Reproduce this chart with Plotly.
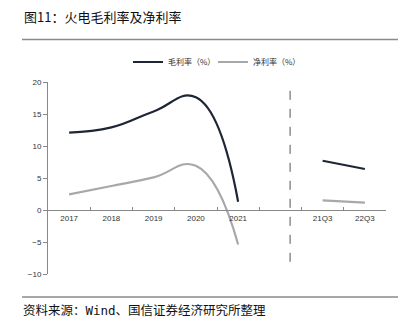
import plotly.graph_objects as go

categories = ['2017', '2018', '2019', '2020', '2021', ' ', '21Q3', '22Q3']
years = ['2017', '2018', '2019', '2020', '2021']
gross_annual = [12.1, 12.9, 15.4, 17.6, 1.3]
net_annual = [2.45, 3.75, 5.1, 6.9, -5.4]
quarters = ['21Q3', '22Q3']
gross_q = [7.7, 6.4]
net_q = [1.5, 1.15]
y_ticks = [-10, -5, 0, 5, 10, 15, 20]

DARK = '#1e2635'
GRAY = '#a8a8a8'
CJK = 'Noto Sans CJK SC'

W, H = 407, 323
L, R, T, B = 48, 21, 82, 49
PW, PH = W - L - R, H - T - B

def px(x):
    return (x - L) / PW

def py(y):
    return (H - B - y) / PH

fig = go.Figure()
fig.add_trace(go.Scatter(x=years, y=gross_annual, mode='lines', name='毛利率（%）',
                         line=dict(color=DARK, width=2.2, shape='spline', smoothing=1.3)))
fig.add_trace(go.Scatter(x=years, y=net_annual, mode='lines', name='净利率（%）',
                         line=dict(color=GRAY, width=2.2, shape='spline', smoothing=1.3)))
fig.add_trace(go.Scatter(x=quarters, y=gross_q, mode='lines', showlegend=False,
                         line=dict(color=DARK, width=2.2)))
fig.add_trace(go.Scatter(x=quarters, y=net_q, mode='lines', showlegend=False,
                         line=dict(color=GRAY, width=2.2)))

# separator dashed line
fig.add_shape(type='line', xref='x', yref='y', x0=5.23, x1=5.23, y0=-8.1, y1=19.4,
              line=dict(color='#555555', width=1, dash='dash'))

# title and rules
fig.add_annotation(xref='paper', yref='paper', x=px(22), y=py(17), xanchor='left', yanchor='middle',
                   text='图11：火电毛利率及净利率', showarrow=False,
                   font=dict(family=CJK, size=13, color='#111111'))
fig.add_shape(type='line', xref='paper', yref='paper', x0=px(22), x1=px(398), y0=py(39.5), y1=py(39.5),
              line=dict(color='#8a8a8a', width=1.5))
fig.add_shape(type='line', xref='paper', yref='paper', x0=px(22), x1=px(398), y0=py(297), y1=py(297),
              line=dict(color='#8a8a8a', width=1.5))
fig.add_annotation(xref='paper', yref='paper', x=px(21), y=py(310), xanchor='left', yanchor='middle',
                   text='资料来源：Wind、国信证券经济研究所整理', showarrow=False,
                   font=dict(family='DejaVu Sans Mono, ' + CJK, size=12.5, color='#111111'))

fig.update_layout(
    width=W, height=H,
    margin=dict(l=L, r=R, t=T, b=B, pad=0),
    paper_bgcolor='white', plot_bgcolor='white',
    showlegend=True,
    legend=dict(orientation='h', x=px(128), y=py(62), xanchor='left', yanchor='middle',
                font=dict(family=CJK, size=8, color='#333333'),
                itemwidth=30, tracegroupgap=0, bgcolor='rgba(0,0,0,0)',
                entrywidth=40, entrywidthmode='pixels'),
    xaxis=dict(type='category', categoryorder='array', categoryarray=categories,
               range=[-0.5, 7.5], anchor='free', position=1/3,
               showline=True, linecolor='#888888', linewidth=1,
               ticks='inside', tickson='boundaries', ticklen=3, tickcolor='#888888',
               showgrid=False, zeroline=False,
               tickfont=dict(family='Liberation Sans', size=8, color='#333333')),
    yaxis=dict(range=[-10, 20], tickvals=y_ticks, showline=True, linecolor='#888888', linewidth=1,
               ticks='outside', ticklen=4, tickcolor='#888888', showgrid=False, zeroline=False,
               tickfont=dict(family='Liberation Sans', size=8, color='#333333')),
)

fig.write_html('out.html')
